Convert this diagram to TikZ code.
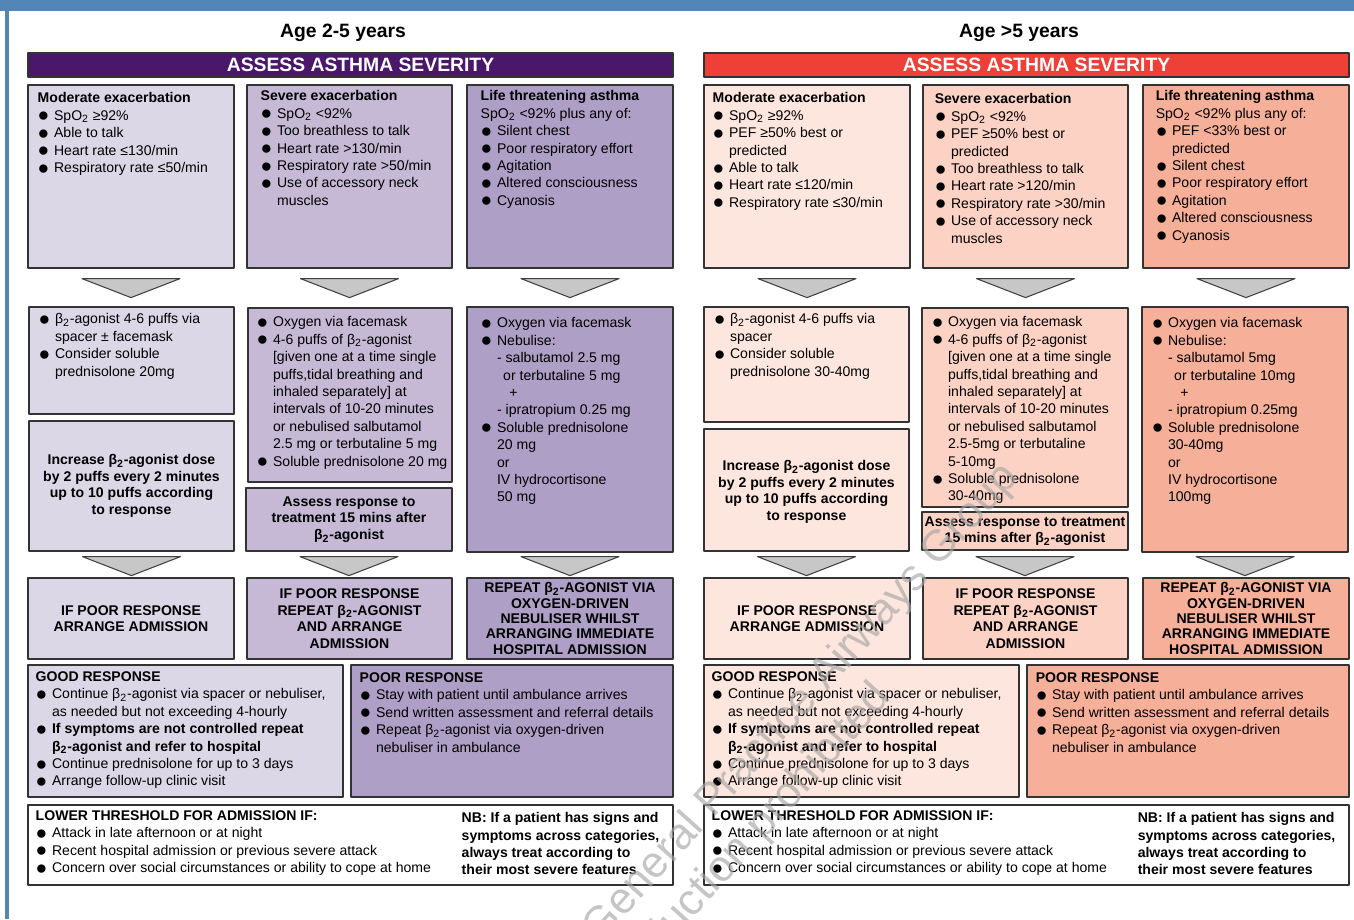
\documentclass[tikz,border=0pt]{standalone}
\usepackage{fontspec}
\setmainfont{Liberation Sans}
\usetikzlibrary{fit}
\definecolor{khung}{HTML}{5286B6}
\definecolor{tim}{HTML}{4A176A}
\definecolor{timA}{HTML}{DCD7E7}
\definecolor{timB}{HTML}{C5B9D5}
\definecolor{timC}{HTML}{AE9FC6}
\definecolor{doH}{HTML}{EE4036}
\definecolor{doA}{HTML}{FDE6DE}
\definecolor{doB}{HTML}{FBD2C4}
\definecolor{doC}{HTML}{F6AF98}
\newcommand\bl{\makebox[9.3pt][l]{\raisebox{-.9pt}{\fontsize{11}{0}\selectfont ●}}}
\newcommand\ind{\makebox[9.3pt]{}}
\newcommand\bt{β\textsubscript{2}}
\newcommand\spo{SpO\textsubscript{2}}
\newcommand\chev[2]{\draw[chevron] ([shift={(-49,#2)}]#1.south)--([shift={(49,#2)}]#1.south)--([shift={(0,#2+19)}]#1.south)--cycle;}
\begin{document}
\begin{tikzpicture}[x=.02cm,y=-.02cm, line join=round,
	hop/.style={draw=black!80, line width=.7pt, inner sep=0pt},
	txt/.style={anchor=north west, inner sep=0pt, align=left, font=\fontsize{8}{9.9}\selectfont},
	ctr/.style={inner sep=0pt, align=center, font=\fontsize{8}{9.5}\selectfont\bfseries},
	chevron/.style={fill=black!22, draw=black!75, line width=.6pt},
	wm/.style={rotate=48, anchor=east, inner sep=0pt, text=black!35, text opacity=.65, font=\fontsize{25}{25}\selectfont}]
	\useasboundingbox (0,0) rectangle (1354,919);
	\fill[white] (0,0) rectangle (1354,919);
	\fill[khung] (0,0) rectangle (1354,11); % khung xanh
	\fill[khung] (5,0) rectangle (9,919);
	% phan chung cua hai cot
	\foreach \dx/\p/\ca/\cb/\cc/\ch/\age in {0/L/timA/timB/timC/tim/Age 2-5 years, 676/R/doA/doB/doC/doH/Age >5 years}{
		\node[font=\fontsize{11}{13}\selectfont\bfseries] (age\p) at (343+\dx,33) {\age};
		\node[hop, fill=\ch, fit={(28+\dx,53) (673+\dx,77)}] (hd\p) {};
		\node[font=\fontsize{11}{13}\selectfont\bfseries, text=white] (hdt\p) at ([shift={(10,0)}]hd\p.center) {ASSESS ASTHMA SEVERITY};
		\node[hop, fill=\ca, fit={(28+\dx,85) (234+\dx,268)}] (a1\p) {};
		\node[hop, fill=\cb, fit={(247+\dx,85) (452+\dx,268)}] (a2\p) {};
		\node[hop, fill=\cc, fit={(467+\dx,85) (673+\dx,268)}] (a3\p) {};
		\chev{a1\p}{10} \chev{a2\p}{10} \chev{a3\p}{10}
		\node[hop, fill=\ca, fit={(28+\dx,578) (234+\dx,659)}] (c1\p) {};
		\node[hop, fill=\cb, fit={(247+\dx,578) (452+\dx,659)}] (c2\p) {};
		\node[hop, fill=\cc, fit={(467+\dx,578) (673+\dx,659)}] (c3\p) {};
		\node[ctr] (c1\p t) at (c1\p) {IF POOR RESPONSE\\ARRANGE ADMISSION};
		\node[ctr] (c2\p t) at (c2\p) {IF POOR RESPONSE\\REPEAT \bt-AGONIST\\AND ARRANGE\\ADMISSION};
		\node[ctr, font=\fontsize{8}{8.7}\selectfont\bfseries] (c3\p t) at (c3\p) {REPEAT \bt-AGONIST VIA\\OXYGEN-DRIVEN\\NEBULISER WHILST\\ARRANGING IMMEDIATE\\HOSPITAL ADMISSION};
		\node[hop, fill=\ca, fit={(28+\dx,665) (343+\dx,797)}] (good\p) {};
		\node[hop, fill=\cc, fit={(351+\dx,665) (673+\dx,797)}] (poor\p) {};
		\node[txt] (good\p t) at ([shift={(8,7)}]good\p.north west) {\textbf{GOOD RESPONSE}\\
			\bl Continue \bt-agonist via spacer or nebuliser,\\
			\ind as needed but not exceeding 4-hourly\\
			\bl\textbf{If symptoms are not controlled repeat}\\
			\ind\textbf{\bt-agonist and refer to hospital}\\
			\bl Continue prednisolone for up to 3 days\\
			\bl Arrange follow-up clinic visit};
		\node[txt] (poor\p t) at ([shift={(9,8)}]poor\p.north west) {\textbf{POOR RESPONSE}\\
			\bl Stay with patient until ambulance arrives\\
			\bl Send written assessment and referral details\\
			\bl Repeat \bt-agonist via oxygen-driven\\
			\ind nebuliser in ambulance};
		\node[hop, fill=white, fit={(28+\dx,805) (673+\dx,885)}] (low\p) {};
		\node[txt] (low\p t) at ([shift={(8,6)}]low\p.north west) {\textbf{LOWER THRESHOLD FOR ADMISSION IF:}\\
			\bl Attack in late afternoon or at night\\
			\bl Recent hospital admission or previous severe attack\\
			\bl Concern over social circumstances or ability to cope at home};
		\node[txt, font=\fontsize{8}{9.8}\selectfont\bfseries] (nb\p) at ([shift={(434,8)}]low\p.north west) {NB: If a patient has signs and\\symptoms across categories,\\always treat according to\\their most severe features};
	}
	% Cot trai: 2-5 tuoi
	\node[txt] (a1Lt) at ([shift={(10,8)}]a1L.north west) {\textbf{Moderate exacerbation}\\
		\bl\spo{} ≥92\%\\
		\bl Able to talk\\
		\bl Heart rate ≤130/min\\
		\bl Respiratory rate ≤50/min};
	\node[txt] (a2Lt) at ([shift={(14,6)}]a2L.north west) {\textbf{Severe exacerbation}\\
		\bl\spo{} <92\%\\
		\bl Too breathless to talk\\
		\bl Heart rate >130/min\\
		\bl Respiratory rate >50/min\\
		\bl Use of accessory neck\\
		\ind muscles};
	\node[txt] (a3Lt) at ([shift={(14,6)}]a3L.north west) {\textbf{Life threatening asthma}\\
		\spo{} <92\% plus any of:\\
		\bl Silent chest\\
		\bl Poor respiratory effort\\
		\bl Agitation\\
		\bl Altered consciousness\\
		\bl Cyanosis};
	\node[hop, fill=timA, fit={(29,307) (234,414)}] (tr1L) {};
	\node[hop, fill=timA, fit={(29,421) (234,551)}] (incL) {};
	\node[hop, fill=timB, fit={(248,308) (452,482)}] (tr2L) {};
	\node[hop, fill=timB, fit={(246,488) (452,551)}] (asL) {};
	\node[hop, fill=timC, fit={(467,307) (673,552)}] (tr3L) {};
	\node[txt] (tr1Lt) at ([shift={(10,7)}]tr1L.north west) {\bl\bt-agonist 4-6 puffs via\\
		\ind spacer ± facemask\\
		\bl Consider soluble\\
		\ind prednisolone 20mg};
	\node[ctr] (incLt) at (incL) {Increase \bt-agonist dose\\by 2 puffs every 2 minutes\\up to 10 puffs according\\to response};
	\node[txt] (tr2Lt) at ([shift={(9,9)}]tr2L.north west) {\bl Oxygen via facemask\\
		\bl 4-6 puffs of \bt-agonist\\
		\ind{[}given one at a time single\\
		\ind puffs,tidal breathing and\\
		\ind inhaled separately] at\\
		\ind intervals of 10-20 minutes\\
		\ind or nebulised salbutamol\\
		\ind 2.5 mg or terbutaline 5 mg\\
		\bl Soluble prednisolone 20 mg};
	\node[ctr] (asLt) at (asL) {Assess response to\\treatment 15 mins after\\\bt-agonist};
	\node[txt] (tr3Lt) at ([shift={(14,11)}]tr3L.north west) {\bl Oxygen via facemask\\
		\bl Nebulise:\\
		\ind - salbutamol 2.5 mg\\
		\ind\hspace{3.5pt}or terbutaline 5 mg\\
		\ind\hspace{7pt}+\\
		\ind - ipratropium 0.25 mg\\
		\bl Soluble prednisolone\\
		\ind 20 mg\\
		\ind or\\
		\ind IV hydrocortisone\\
		\ind 50 mg};
	\chev{incL}{5} \chev{asL}{5} \chev{tr3L}{4}
	% Cot phai: >5 tuoi
	\node[txt] (a1Rt) at ([shift={(9,8)}]a1R.north west) {\textbf{Moderate exacerbation}\\
		\bl\spo{} ≥92\%\\
		\bl PEF ≥50\% best or\\
		\ind predicted\\
		\bl Able to talk\\
		\bl Heart rate ≤120/min\\
		\bl Respiratory rate ≤30/min};
	\node[txt] (a2Rt) at ([shift={(12,9)}]a2R.north west) {\textbf{Severe exacerbation}\\
		\bl\spo{} <92\%\\
		\bl PEF ≥50\% best or\\
		\ind predicted\\
		\bl Too breathless to talk\\
		\bl Heart rate >120/min\\
		\bl Respiratory rate >30/min\\
		\bl Use of accessory neck\\
		\ind muscles};
	\node[txt] (a3Rt) at ([shift={(13,6)}]a3R.north west) {\textbf{Life threatening asthma}\\
		\spo{} <92\% plus any of:\\
		\bl PEF <33\% best or\\
		\ind predicted\\
		\bl Silent chest\\
		\bl Poor respiratory effort\\
		\bl Agitation\\
		\bl Altered consciousness\\
		\bl Cyanosis};
	\node[hop, fill=doA, fit={(704,307) (909,422)}] (tr1R) {};
	\node[hop, fill=doA, fit={(704,429) (909,551)}] (incR) {};
	\node[hop, fill=doB, fit={(922,308) (1128,507)}] (tr2R) {};
	\node[hop, fill=doB, fit={(922,512) (1128,550)}] (asR) {};
	\node[hop, fill=doC, fit={(1142,307) (1348,552)}] (tr3R) {};
	\node[txt] (tr1Rt) at ([shift={(10,7)}]tr1R.north west) {\bl\bt-agonist 4-6 puffs via\\
		\ind spacer\\
		\bl Consider soluble\\
		\ind prednisolone 30-40mg};
	\node[ctr] (incRt) at ([shift={(0,2)}]incR.center) {Increase \bt-agonist dose\\by 2 puffs every 2 minutes\\up to 10 puffs according\\to response};
	\node[txt] (tr2Rt) at ([shift={(10,9)}]tr2R.north west) {\bl Oxygen via facemask\\
		\bl 4-6 puffs of \bt-agonist\\
		\ind{[}given one at a time single\\
		\ind puffs,tidal breathing and\\
		\ind inhaled separately] at\\
		\ind intervals of 10-20 minutes\\
		\ind or nebulised salbutamol\\
		\ind 2.5-5mg or terbutaline\\
		\ind 5-10mg\\
		\bl Soluble prednisolone\\
		\ind 30-40mg};
	\node[ctr] (asRt) at (asR) {Assess response to treatment\\15 mins after \bt-agonist};
	\node[txt] (tr3Rt) at ([shift={(10,11)}]tr3R.north west) {\bl Oxygen via facemask\\
		\bl Nebulise:\\
		\ind - salbutamol 5mg\\
		\ind\hspace{3.5pt}or terbutaline 10mg\\
		\ind\hspace{7pt}+\\
		\ind - ipratropium 0.25mg\\
		\bl Soluble prednisolone\\
		\ind 30-40mg\\
		\ind or\\
		\ind IV hydrocortisone\\
		\ind 100mg};
	\chev{incR}{5} \chev{asR}{6} \chev{tr3R}{4}
	% chu mo
	\node[wm] (wm1) at (1012,470) {General Practice Airways Group};
	\node[wm] (wm2) at (884,690) {Reproduction prohibited};
\end{tikzpicture}
\end{document}
